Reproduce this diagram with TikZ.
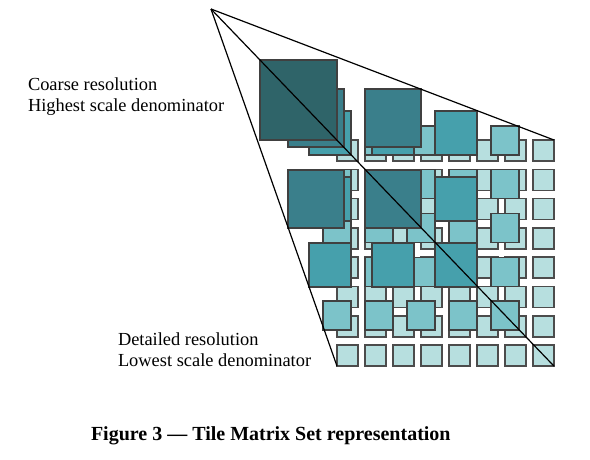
\documentclass[tikz,border=0pt]{standalone}
\usepackage{fontspec}
\setmainfont{Liberation Serif}
\usepackage{tikz}
\definecolor{teal1}{HTML}{B7DFDF}
\definecolor{teal2}{HTML}{7CC3C9}
\definecolor{teal3}{HTML}{46A0AC}
\definecolor{teal4}{HTML}{3A7F8B}
\definecolor{teal5}{HTML}{2F6469}

\begin{document}
\begin{tikzpicture}[x=1pt,y=-1pt,
 every node/.style={inner sep=0pt,outer sep=0pt},
 tile/.style={draw=black!75,line width=1.4pt,anchor=north west},
 level1/.style={tile,fill=teal1,draw=black!70,line width=1.6pt,minimum width=21pt,minimum height=21pt},
 level2/.style={tile,fill=teal2,minimum width=28pt,minimum height=29pt},
 level3/.style={tile,fill=teal3,minimum width=42pt,minimum height=44pt},
 level4/.style={tile,fill=teal4,minimum width=56pt,minimum height=58pt},
 level5/.style={tile,fill=teal5,minimum width=77pt,minimum height=80pt},
 label/.style={font=\fontsize{18.4}{21}\selectfont,align=left,anchor=north west}]
 \useasboundingbox (0,0) rectangle (590,459);
 \coordinate (apex) at (211,9);
 % one loop per level, finest first
 \foreach \r in {0,...,7}
  \foreach \c in {0,...,7}
   \node[level1] (a-\r-\c) at ({337+28*\c},{140+29.3*\r}) {};
 \foreach \r in {0,...,4}
  \foreach \c in {0,...,4}
   \node[level2] (b-\r-\c) at ({323+42*\c},{126+43.75*\r}) {};
 \foreach \r in {0,...,2}
  \foreach \c in {0,...,2}
   \node[level3] (c-\r-\c) at ({309+63*\c},{111+66*\r}) {};
 \foreach \r in {0,1}
  \foreach \c in {0,1}
   \node[level4] (d-\r-\c) at ({288+77*\c},{89+81*\r}) {};
 \node[level5] (top) at (260,60) {};
 \draw[line width=1.2pt] (apex)--(a-0-7.north east);
 \draw[line width=1.2pt] (apex)--(a-7-0.south west);
 \draw[line width=1.2pt] (apex)--(a-7-7.south east);
 \node[label] (coarse) at (28,78) {Coarse resolution\\Highest scale denominator};
 \node[label] (detail) at (118,333) {Detailed resolution\\Lowest scale denominator};
 \node[label,font=\fontsize{20}{23}\selectfont\bfseries] (caption) at (91,427) {Figure 3 --- Tile Matrix Set representation};
\end{tikzpicture}
\end{document}
